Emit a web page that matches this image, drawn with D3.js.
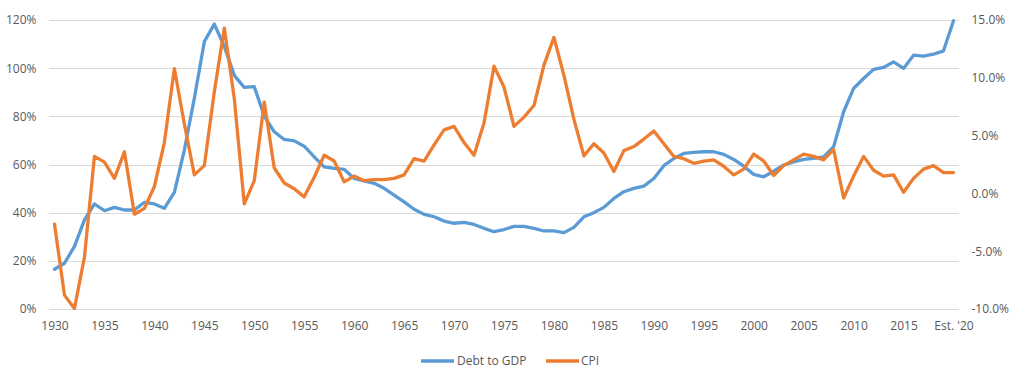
<!DOCTYPE html>
<html>
<head>
<meta charset="utf-8">
<script src="https://cdn.jsdelivr.net/npm/d3@7"></script>
<style>
  html, body { margin: 0; padding: 0; background: #fff; }
  svg { display: block; }
  text { font-family: "Open Sans", sans-serif; fill: #595959; }
</style>
</head>
<body>
<svg id="chart" width="1024" height="378"></svg>
<script>
const years = [1930,1931,1932,1933,1934,1935,1936,1937,1938,1939,
  1940,1941,1942,1943,1944,1945,1946,1947,1948,1949,
  1950,1951,1952,1953,1954,1955,1956,1957,1958,1959,
  1960,1961,1962,1963,1964,1965,1966,1967,1968,1969,
  1970,1971,1972,1973,1974,1975,1976,1977,1978,1979,
  1980,1981,1982,1983,1984,1985,1986,1987,1988,1989,
  1990,1991,1992,1993,1994,1995,1996,1997,1998,1999,
  2000,2001,2002,2003,2004,2005,2006,2007,2008,2009,
  2010,2011,2012,2013,2014,2015,2016,2017,2018,2019,2020];

const debtToGDP = [16.5,19,26,37,43.6,40.8,42.2,41.1,41.1,44.3,
  43.6,41.8,48.4,66,87.5,111,118.3,109,97,92,
  92.3,80,73.6,70.4,69.8,67.6,63.2,59,58.4,58,
  54.2,53.2,52.2,50.1,47.3,44.5,41.4,39.3,38.3,36.5,
  35.6,36,35.1,33.5,32.1,33,34.3,34.3,33.5,32.4,
  32.4,31.7,33.9,38.3,40,42.2,45.9,48.7,50.1,51,
  54.2,59.5,62.5,64.6,65,65.3,65.3,64.2,62.1,59.3,
  55.9,54.9,57.2,59.8,61.1,62.1,62.5,63.2,67.4,81.9,
  91.6,95.7,99.5,100.3,102.6,99.9,105.4,105,105.8,107.2,119.7];

const cpi = [-2.66,-8.8,-9.95,-5.5,3.2,2.7,1.3,3.6,-1.8,-1.3,
  0.6,4.4,10.8,6.0,1.6,2.4,8.8,14.3,8.2,-0.9,
  1.1,7.9,2.2,0.9,0.4,-0.3,1.4,3.3,2.8,1.0,
  1.5,1.1,1.2,1.2,1.3,1.6,3.0,2.8,4.2,5.5,
  5.8,4.4,3.3,6.1,11.0,9.2,5.8,6.6,7.6,11.1,
  13.5,10.2,6.4,3.25,4.3,3.5,1.9,3.7,4.05,4.7,
  5.4,4.3,3.2,3.0,2.6,2.8,2.9,2.35,1.6,2.1,
  3.4,2.8,1.55,2.4,2.9,3.4,3.2,2.9,3.8,-0.4,
  1.5,3.2,2.0,1.5,1.6,0.1,1.3,2.1,2.4,1.8,1.8];

const xTickYears = [1930,1935,1940,1945,1950,1955,1960,1965,1970,1975,1980,1985,1990,1995,2000,2005,2010,2015,2020];
const xTickLabels = ["1930","1935","1940","1945","1950","1955","1960","1965","1970","1975","1980","1985","1990","1995","2000","2005","2010","2015","Est. '20"];
const leftTicks = [0,20,40,60,80,100,120];
const rightTicks = [-10,-5,0,5,10,15];
const seriesNames = ["Debt to GDP", "CPI"];
const colors = ["#5B9BD5", "#ED7D31"];

(function () {
const svg = d3.select("#chart");
const pLeft = 49.5, pRight = 958.5, pTop = 20, pBottom = 309;

const x = d3.scalePoint().domain(years).range([pLeft, pRight]).padding(0.5);
const yL = d3.scaleLinear().domain([0, 120]).range([pBottom, pTop]);
const yR = d3.scaleLinear().domain([-10, 15]).range([pBottom, pTop]);

const fontStyle = sel => sel.style("font-size", "12px").attr("fill", "#595959")
  .style("font-family", "'Open Sans', sans-serif");

// gridlines
const gridAxis = d3.axisLeft(yL).tickValues(leftTicks).tickSize(-(pRight - pLeft + 1)).tickFormat("");
const gg = svg.append("g").attr("transform", `translate(${pLeft - 1},0)`).call(gridAxis);
gg.select(".domain").remove();
gg.selectAll("line").attr("stroke", "#D9D9D9").attr("stroke-width", 1).attr("shape-rendering", "crispEdges");

// left axis labels
const la = svg.append("g").attr("transform", `translate(${pLeft - 1},0)`)
  .call(d3.axisLeft(yL).tickValues(leftTicks).tickSize(0).tickPadding(12).tickFormat(d => d + "%"));
la.select(".domain").remove();
la.selectAll("text").call(fontStyle);

// right axis labels
const ra = svg.append("g").attr("transform", `translate(${pRight},0)`)
  .call(d3.axisRight(yR).tickValues(rightTicks).tickSize(0).tickPadding(13).tickFormat(d => d.toFixed(1) + "%"));
ra.select(".domain").remove();
ra.selectAll("text").call(fontStyle);

// x axis labels
const xa = svg.append("g").attr("transform", `translate(0,${pBottom})`)
  .call(d3.axisBottom(x).tickValues(xTickYears).tickSize(0).tickPadding(12)
    .tickFormat(d => xTickLabels[xTickYears.indexOf(d)]));
xa.select(".domain").remove();
xa.selectAll("text").call(fontStyle);

// lines
const debtLine = d3.line().x((d, i) => x(years[i])).y(d => yL(d));
const cpiLine = d3.line().x((d, i) => x(years[i])).y(d => yR(d));

svg.append("path").datum(debtToGDP).attr("d", debtLine)
  .attr("fill", "none").attr("stroke", colors[0]).attr("stroke-width", 3.3)
  .attr("stroke-linejoin", "round").attr("stroke-linecap", "round");
svg.append("path").datum(cpi).attr("d", cpiLine)
  .attr("fill", "none").attr("stroke", colors[1]).attr("stroke-width", 3.3)
  .attr("stroke-linejoin", "round").attr("stroke-linecap", "round");

// legend
const legendPos = [{x: 421, tx: 457}, {x: 546, tx: 581}];
const lg = svg.append("g");
seriesNames.forEach((name, i) => {
  lg.append("line").attr("x1", legendPos[i].x).attr("x2", legendPos[i].x + 33)
    .attr("y1", 361).attr("y2", 361).attr("stroke", colors[i]).attr("stroke-width", 3.3);
  lg.append("text").attr("x", legendPos[i].tx).attr("y", 361).attr("dy", "0.35em")
    .call(fontStyle).text(name);
});
})();
</script>
</body>
</html>
